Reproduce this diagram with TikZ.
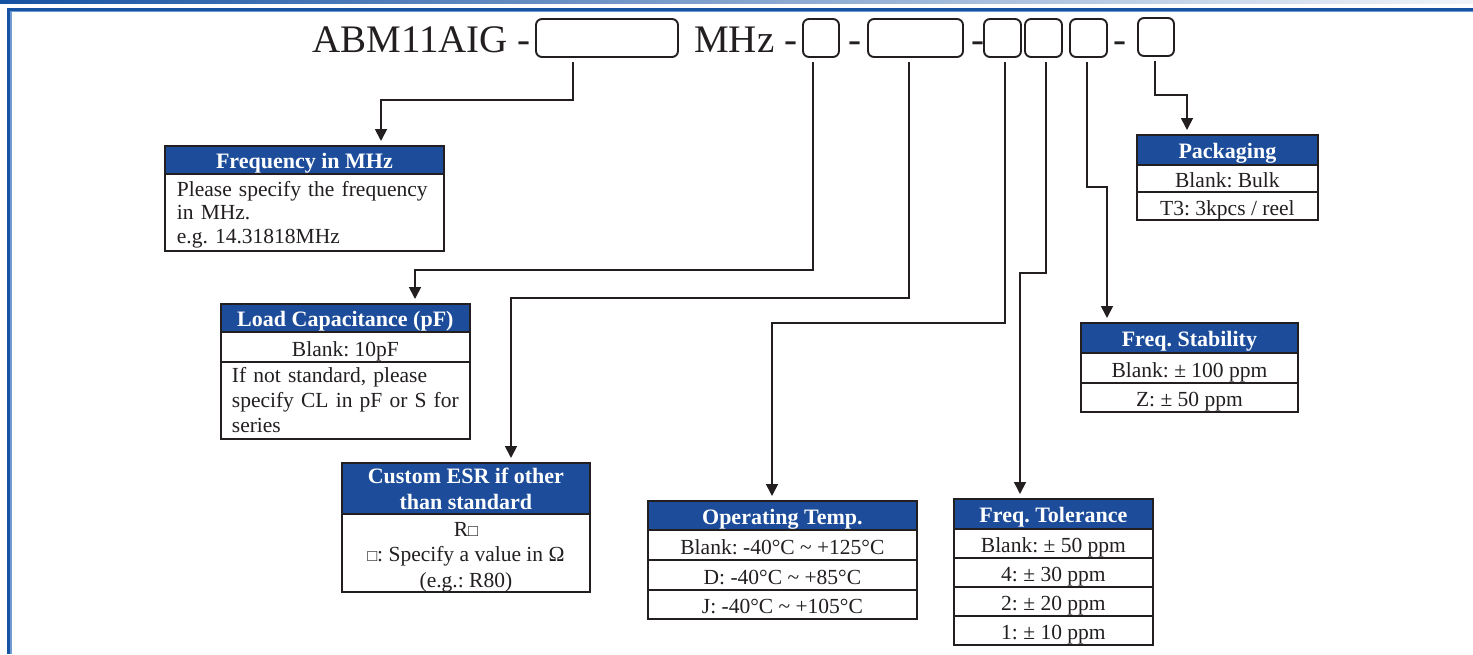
\documentclass[tikz,border=0pt]{standalone}
\usepackage{fontspec}
\setmainfont{Liberation Serif}
\usetikzlibrary{arrows.meta,calc}
\definecolor{hdrblue}{RGB}{28,76,154}
\definecolor{frameblue}{RGB}{22,82,162}
\definecolor{lightframe}{RGB}{110,155,210}
\definecolor{ink}{RGB}{35,31,32}
\newcommand{\smsq}{{\fontsize{16.5}{16.5}\selectfont □}}
\begin{document}
\frenchspacing
\begin{tikzpicture}[x=1pt,y=-1pt,
  hdr/.style={draw=ink, line width=1.8pt, fill=hdrblue, text=white,
    font=\fontsize{22}{26}\selectfont\bfseries, anchor=north west, inner sep=0pt, align=center},
  hdrone/.style={hdr, text height=18pt, text depth=0pt},
  cell/.style={draw=ink, line width=1.8pt, fill=white, text=ink,
    font=\fontsize{21.5}{25}\selectfont, anchor=north west, inner sep=0pt, align=center},
  cellone/.style={cell, text height=19pt, text depth=0pt},
  plain/.style={text=ink, font=\fontsize{21.5}{25.5}\selectfont, inner sep=0pt, align=center},
  tb/.style={draw=ink, line width=1.9pt, rounded corners=6pt, inner sep=0pt, minimum height=38},
  ttl/.style={anchor=base west, font=\fontsize{39}{39}\selectfont, text=ink, inner sep=0pt},
  conn/.style={draw=ink, line width=1.7pt, shorten <=4pt, shorten >=4pt,
    -{Triangle[width=12pt,length=12pt]}}]
\useasboundingbox (0,0) rectangle (1473,654);
% frame
\shade[left color=frameblue, right color=frameblue!6] (0,0) rectangle (1473,3);
\fill[frameblue] (7,8) rectangle (1473,10.5);
\fill[lightframe] (10,10.5) rectangle (1473,11.5);
\fill[frameblue] (7,8) rectangle (10,654);
\fill[lightframe] (10,10.5) rectangle (11.5,654);
% title
\node[ttl] (t1) at (312,52) {ABM11AIG -};
\node[tb, minimum width=142] (b1) at (607,38) {};
\node[ttl] (t2) at (694,52) {MHz -};
\node[tb, minimum width=36] (b2) at (821,38) {};
\node[ttl] (d1) at (848,52) {-};
\node[tb, minimum width=95] (b3) at (915.5,38) {};
\node[ttl] (d2) at (971,52) {-};
\node[tb, minimum width=37] (b4) at (1002.5,38) {};
\node[tb, minimum width=37] (b5) at (1043.5,38) {};
\node[tb, minimum width=37] (b6) at (1088.5,38) {};
\node[ttl] (d3) at (1113,52) {-};
\node[tb, minimum width=36] (b7) at (1156,37) {};
% Frequency in MHz
\node[hdrone, minimum width=279, minimum height=28] (hfreq) at (164,145) {Frequency in MHz};
\node[cell, minimum width=279, minimum height=77] (bfreq) at (164,173) {};
\node[plain, align=left, text width=255, anchor=center, font=\fontsize{21.5}{23.5}\selectfont]
  (bfreqtxt) at ([yshift=-2pt]bfreq.center) {Please specify the frequency\\in MHz.\\e.g. 14.31818MHz};
% Load capacitance
\node[hdrone, minimum width=249, minimum height=28] (hload) at (220,303) {Load Capacitance (pF)};
\node[cellone, minimum width=249, minimum height=30] (lrow1) at (220,331) {Blank: 10pF};
\node[cell, align=left, text width=227, inner xsep=11, minimum height=77] (lrow2) at (220,361)
  {If not standard, please\\specify CL in pF or S for\\series};
% ESR
\node[hdr, minimum width=248, minimum height=51, font=\fontsize{22}{26}\selectfont\bfseries] (hesr) at (341,462)
  {Custom ESR if other\\than standard};
\node[cell, minimum width=248, minimum height=78] (besr) at (341,513) {};
\node[plain] (besrtxt) at ([yshift=-4pt]besr.center) {R\smsq\\\smsq: Specify a value in Ω\\(e.g.: R80)};
% Operating temp
\node[hdrone, minimum width=269, minimum height=29] (htemp) at (647,500) {Operating Temp.};
\node[cellone, minimum width=269, minimum height=30] (tr1) at (647,529) {Blank: -40°C \textasciitilde{} +125°C};
\node[cellone, minimum width=269, minimum height=30] (tr2) at (647,559) {D: -40°C \textasciitilde{} +85°C};
\node[cellone, minimum width=269, minimum height=29] (tr3) at (647,589) {J: -40°C \textasciitilde{} +105°C};
% Freq tolerance
\node[hdrone, minimum width=199, minimum height=30] (htol) at (953,498) {Freq. Tolerance};
\node[cellone, minimum width=199, minimum height=29] (fr1) at (953,528) {Blank: ± 50 ppm};
\node[cellone, minimum width=199, minimum height=29] (fr2) at (953,557) {4: ± 30 ppm};
\node[cellone, minimum width=199, minimum height=29] (fr3) at (953,586) {2: ± 20 ppm};
\node[cellone, minimum width=199, minimum height=29] (fr4) at (953,615) {1: ± 10 ppm};
% Packaging
\node[hdrone, minimum width=181, minimum height=30] (hpack) at (1136,134) {Packaging};
\node[cellone, minimum width=181, minimum height=27] (pr1) at (1136,164) {Blank: Bulk};
\node[cellone, minimum width=181, minimum height=28] (pr2) at (1136,191) {T3: 3kpcs / reel};
% Freq stability
\node[hdrone, minimum width=217, minimum height=30] (hstab) at (1080,322) {Freq. Stability};
\node[cellone, minimum width=217, minimum height=30] (sr1) at (1080,352) {Blank: ± 100 ppm};
\node[cellone, minimum width=217, minimum height=29] (sr2) at (1080,382) {Z: ± 50 ppm};
% connectors
\coordinate (k1) at (381,100);
\coordinate (k2) at (415,270);
\coordinate (k3) at (511,298);
\coordinate (k4) at (772,323);
\coordinate (k5) at (1020,273);
\coordinate (k6) at (1107,187);
\coordinate (k7) at (1187,95);
\draw[conn] (573,0 |- b1.south) |- (k1) -- (k1 |- hfreq.north);
\draw[conn] (813,0 |- b2.south) |- (k2) -- (k2 |- hload.north);
\draw[conn] (909,0 |- b3.south) |- (k3) -- (k3 |- hesr.north);
\draw[conn] (1005,0 |- b4.south) |- (k4) -- (k4 |- htemp.north);
\draw[conn] (1046,0 |- b5.south) |- (k5) -- (k5 |- htol.north);
\draw[conn] (1087,0 |- b6.south) |- (k6) -- (k6 |- hstab.north);
\draw[conn] (1155,0 |- b7.south) |- (k7) -- (k7 |- hpack.north);
\end{tikzpicture}
\end{document}
